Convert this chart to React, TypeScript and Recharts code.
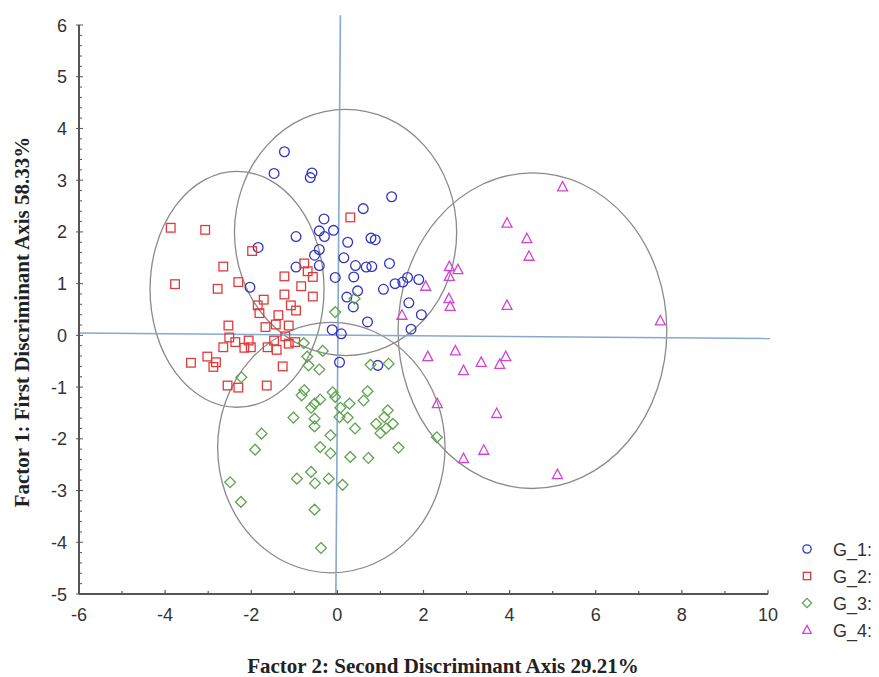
import React from 'react';
import { ScatterChart, Scatter, XAxis, YAxis, ReferenceLine, ReferenceArea, Legend } from 'recharts';

// ---------- data ----------
const groupNames = ['G_1:', 'G_2:', 'G_3:', 'G_4:'];
const groupColors = ['#3434c4', '#e23a3a', '#5fa34f', '#d444d4'];
const groupShapes = ['circle', 'square', 'diamond', 'triangle'];

const g1Points: [number, number][] = [
  [-1.23, 3.55], [-1.47, 3.13], [-0.59, 3.14], [-0.63, 3.05], [1.26, 2.68], [0.6, 2.45],
  [-0.31, 2.25], [-0.42, 2.02], [-0.09, 2.03], [-0.3, 1.91], [-0.96, 1.91], [0.24, 1.8],
  [0.78, 1.88], [0.88, 1.85], [-1.84, 1.7], [-0.42, 1.66], [-0.53, 1.55], [0.15, 1.5],
  [0.42, 1.35], [0.67, 1.32], [0.8, 1.33], [1.21, 1.39], [-0.42, 1.35], [-0.96, 1.32],
  [-0.05, 1.12], [0.38, 1.13], [-2.03, 0.93], [1.07, 0.89], [1.34, 1.0], [1.52, 1.03],
  [1.63, 1.12], [1.89, 1.08], [0.22, 0.74], [0.47, 0.86], [0.37, 0.55], [1.66, 0.63],
  [1.95, 0.4], [0.7, 0.26], [1.71, 0.12], [-0.12, 0.11], [0.09, 0.03], [0.05, -0.52],
  [0.94, -0.58],
];

const g2Points: [number, number][] = [
  [-3.87, 2.08], [-3.07, 2.04], [0.3, 2.28], [-1.98, 1.63], [-2.65, 1.33], [-0.77, 1.39],
  [-0.69, 1.24], [-3.77, 0.99], [-2.78, 0.9], [-2.3, 1.03], [-1.23, 1.14], [-0.84, 0.95],
  [-0.57, 1.13], [-1.23, 0.79], [-0.57, 0.75], [-1.71, 0.69], [-1.85, 0.58], [-1.08, 0.58],
  [-0.96, 0.48], [-1.81, 0.43], [-1.37, 0.39], [-2.53, 0.19], [-1.67, 0.16], [-1.43, 0.21],
  [-1.13, 0.19], [-2.51, -0.04], [-2.37, -0.13], [-2.06, -0.1], [-2.65, -0.23], [-2.16, -0.24],
  [-2.01, -0.23], [-1.62, -0.23], [-1.41, -0.28], [-1.47, -0.1], [-1.21, -0.02], [-1.13, -0.16],
  [-0.98, -0.13], [-3.4, -0.53], [-3.02, -0.41], [-2.82, -0.52], [-2.88, -0.61], [-1.27, -0.6],
  [-2.55, -0.97], [-2.3, -1.01], [-1.64, -0.97],
];

const g3Points: [number, number][] = [
  [-0.05, 0.45], [0.4, 0.71], [-0.78, -0.15], [-0.34, -0.3], [-0.7, -0.41], [-0.67, -0.58],
  [-0.42, -0.66], [-2.23, -0.81], [0.77, -0.57], [1.19, -0.55], [-0.77, -1.06], [-0.83, -1.16],
  [-0.11, -1.1], [-0.05, -1.19], [0.7, -1.08], [0.61, -1.26], [-0.4, -1.24], [-0.53, -1.32],
  [-0.61, -1.4], [0.07, -1.4], [0.28, -1.32], [-1.02, -1.59], [-0.53, -1.61], [0.05, -1.58],
  [0.24, -1.59], [-0.53, -1.76], [1.17, -1.45], [1.09, -1.58], [0.9, -1.71], [1.29, -1.71],
  [0.41, -1.8], [1.13, -1.8], [1.0, -1.89], [-1.76, -1.9], [-0.16, -1.93], [-1.91, -2.21],
  [-0.4, -2.16], [-0.16, -2.28], [0.3, -2.35], [0.72, -2.37], [1.42, -2.17], [2.31, -1.97],
  [-0.61, -2.64], [-0.94, -2.77], [-0.52, -2.86], [-0.2, -2.77], [0.12, -2.89], [-2.49, -2.84],
  [-2.24, -3.22], [-0.53, -3.37], [-0.38, -4.11],
];

const g4Points: [number, number][] = [
  [5.23, 2.87], [3.94, 2.17], [4.4, 1.87], [4.45, 1.53], [2.6, 1.33], [2.8, 1.27],
  [2.6, 1.14], [2.05, 0.95], [2.59, 0.71], [2.62, 0.56], [3.94, 0.58], [1.5, 0.39],
  [7.5, 0.28], [2.1, -0.41], [2.74, -0.3], [2.93, -0.68], [3.34, -0.52], [3.77, -0.56],
  [3.91, -0.41], [2.32, -1.32], [3.7, -1.51], [3.4, -2.22], [2.93, -2.38], [5.11, -2.69],
];

// confidence ellipses: centre and semi-axes (data units)
const ellipseCenterX = [0.19, -2.33, -0.14, 4.53];
const ellipseCenterY = [1.99, 0.89, -2.17, 0.09];
const ellipseRadiusX = [2.58, 2.02, 2.64, 3.12];
const ellipseRadiusY = [2.38, 2.28, 2.42, 3.05];

// hand drawn crosshair through the origin
const horizontalLine = [{ x: -6, y: 0.045 }, { x: 10.05, y: -0.062 }];
const verticalLine = [{ x: 0.07, y: 6.19 }, { x: -0.035, y: -5 }];

const xTicks = [-6, -5, -4, -3, -2, -1, 0, 1, 2, 3, 4, 5, 6, 7, 8, 9, 10];
const yTicks = Array.from({ length: 56 }, (_, i) => Math.round((-5 + i * 0.2) * 10) / 10);

const xTitle = 'Factor 2: Second Discriminant Axis 29.21%';
const yTitle = 'Factor 1: First Discriminant Axis 58.33%';

const allGroups = [g1Points, g2Points, g3Points, g4Points].map((pts) => pts.map(([x, y]) => ({ x, y })));

// ---------- rendering helpers ----------
const AXIS_FONT = '"Liberation Sans", Arial, sans-serif';
const TITLE_FONT = '"Liberation Serif", "Times New Roman", serif';

function markerPath(kind: string, cx: number, cy: number, s: number, color: string) {
  const common = { fill: 'none', stroke: color, strokeWidth: 1.3 };
  if (kind === 'circle') return <circle cx={cx} cy={cy} r={s * 0.9} {...common} />;
  if (kind === 'square') return <rect x={cx - s * 0.8} y={cy - s * 0.8} width={s * 1.6} height={s * 1.6} {...common} />;
  if (kind === 'diamond')
    return <path d={`M${cx},${cy - s} L${cx + s},${cy} L${cx},${cy + s} L${cx - s},${cy} Z`} {...common} />;
  return <path d={`M${cx},${cy - s} L${cx + s * 0.92},${cy + s * 0.75} L${cx - s * 0.92},${cy + s * 0.75} Z`} {...common} />;
}

const makeShape = (kind: string, color: string) => (props: any) => {
  const { cx, cy } = props;
  if (cx == null || cy == null) return <g />;
  return markerPath(kind, cx, cy, 5.4, color);
};

const EllipseShape = (props: any) => {
  const { x, y, width, height } = props;
  return (
    <ellipse
      cx={x + width / 2}
      cy={y + height / 2}
      rx={Math.abs(width / 2)}
      ry={Math.abs(height / 2)}
      fill="none"
      stroke="#8a8a8a"
      strokeWidth={1.3}
    />
  );
};

const XTick = (props: any) => {
  const { x, y, payload } = props;
  const v = payload.value;
  const major = Math.abs(v % 2) < 1e-6;
  return (
    <g>
      <line x1={x} y1={y} x2={x} y2={y - (major ? 4 : 3)} stroke="#555" strokeWidth={1.2} />
      {major && (
        <text x={x} y={y + 27} textAnchor="middle" fontFamily={AXIS_FONT} fontSize={18} fill="#333">
          {v}
        </text>
      )}
    </g>
  );
};

const YTick = (props: any) => {
  const { x, y, payload } = props;
  const v = payload.value;
  const major = Math.abs(v - Math.round(v)) < 1e-6;
  return (
    <g>
      <line x1={major ? x - 3 : x} y1={y} x2={x + (major ? 4 : 3)} y2={y} stroke="#555" strokeWidth={1} />
      {major && (
        <text x={x - 12} y={y + 6.5} textAnchor="end" fontFamily={AXIS_FONT} fontSize={18} fill="#333">
          {Math.round(v)}
        </text>
      )}
    </g>
  );
};

const XTitle = () => (
  <text x={443} y={673} textAnchor="middle" fontFamily={TITLE_FONT} fontWeight="bold" fontSize={21} fill="#222">
    {xTitle}
  </text>
);

const YTitle = () => (
  <text
    x={29}
    y={322}
    textAnchor="middle"
    transform="rotate(-90, 29, 322)"
    fontFamily={TITLE_FONT}
    fontWeight="bold"
    fontSize={21}
    fill="#222"
  >
    {yTitle}
  </text>
);

const LegendContent = () => (
  <svg width={81} height={110} style={{ display: 'block' }}>
    {groupNames.map((name, i) => {
      const cy = 13 + i * 27;
      return (
        <g key={name}>
          {markerPath(groupShapes[i], 9, cy, 4.6, groupColors[i])}
          <text x={35} y={cy + 6.5} fontFamily={AXIS_FONT} fontSize={18} fill="#333">
            {name}
          </text>
        </g>
      );
    })}
  </svg>
);

export default function App() {
  return (
    <div style={{ position: 'absolute', left: 0, top: 0, width: 879, height: 677, background: '#fff' }}>
      <ScatterChart width={879} height={677} margin={{ top: 25, right: 111, bottom: 43, left: 39 }}>
        <XAxis
          type="number"
          dataKey="x"
          domain={[-6, 10]}
          ticks={xTicks}
          interval={0}
          allowDataOverflow
          height={40}
          tickSize={0}
          tickMargin={0}
          tickLine={false}
          tick={<XTick />}
          axisLine={{ stroke: '#555', strokeWidth: 2 }}
          label={<XTitle />}
        />
        <YAxis
          type="number"
          dataKey="y"
          domain={[-5, 6]}
          ticks={yTicks}
          interval={0}
          allowDataOverflow
          width={40}
          tickSize={0}
          tickMargin={0}
          tickLine={false}
          tick={<YTick />}
          axisLine={{ stroke: '#555', strokeWidth: 2 }}
          label={<YTitle />}
        />
        {ellipseCenterX.map((cx, i) => (
          <ReferenceArea
            key={`ell${i}`}
            x1={cx - ellipseRadiusX[i]}
            x2={cx + ellipseRadiusX[i]}
            y1={ellipseCenterY[i] - ellipseRadiusY[i]}
            y2={ellipseCenterY[i] + ellipseRadiusY[i]}
            ifOverflow="visible"
            shape={<EllipseShape />}
          />
        ))}
        <ReferenceLine segment={horizontalLine} stroke="#86a9cc" strokeWidth={1.6} ifOverflow="visible" />
        <ReferenceLine segment={verticalLine} stroke="#86a9cc" strokeWidth={1.6} ifOverflow="visible" />
        {allGroups.map((data, i) => (
          <Scatter
            key={groupNames[i]}
            name={groupNames[i]}
            data={data}
            fill="none"
            stroke={groupColors[i]}
            isAnimationActive={false}
            shape={makeShape(groupShapes[i], groupColors[i])}
          />
        ))}
        <Legend
          layout="horizontal"
          verticalAlign="middle"
          align="center"
          content={<LegendContent />}
          wrapperStyle={{ position: 'absolute', left: 798, top: 536, width: 81, height: 110 }}
        />
      </ScatterChart>
    </div>
  );
}
